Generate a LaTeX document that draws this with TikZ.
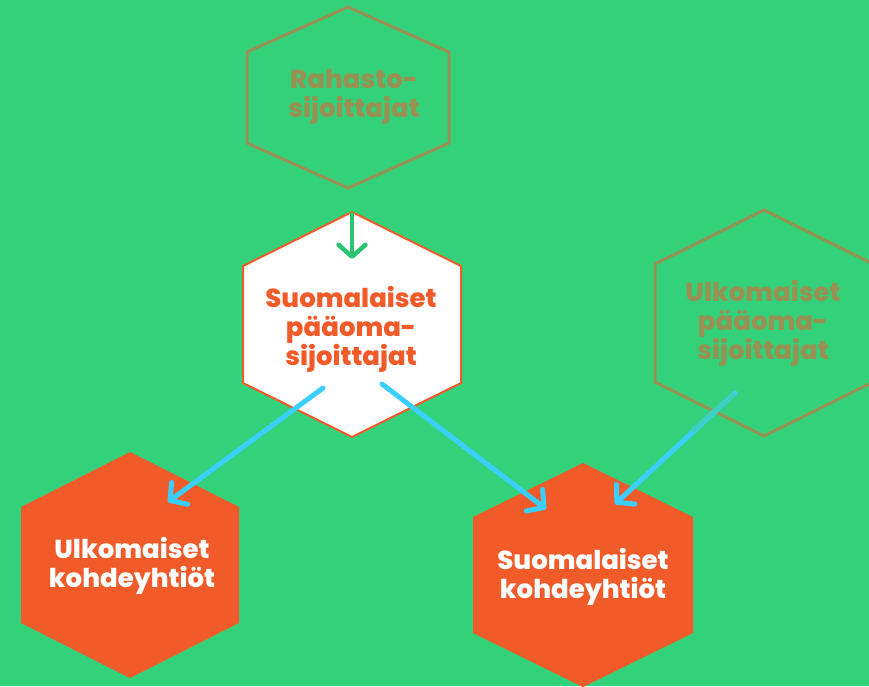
\documentclass[tikz,border=0pt]{standalone}
\usepackage{fontspec}
\setmainfont{Poppins}[BoldFont={Poppins ExtraBold}]
\usetikzlibrary{arrows.meta}

\definecolor{bggreen}{HTML}{34D17B}
\definecolor{darkgreen}{HTML}{2CC470}
\definecolor{oliv}{HTML}{989153}
\definecolor{oranssi}{HTML}{F15A29}
\definecolor{sininen}{HTML}{3BCFFF}
\definecolor{turkoosi}{HTML}{3CCFC2}

\tikzset{
    hexlabel/.style={align=center, inner sep=0pt, font=\bfseries\fontsize{26}{29}\selectfont},
    flow/.style={line width=5pt, line cap=round, -{Straight Barb[length=12pt,width=27pt,round]}},
}

\begin{document}
\begin{tikzpicture}[x=1pt,y=-1pt]

        \useasboundingbox (0,0) rectangle (869,686);
        \fill[bggreen] (0,0) rectangle (869,686);

        % ylarivi
        \draw[color=oliv, line width=3pt, shift={(348,97)}] (0,-90) -- (101,-45) -- (101,46) -- (0,91) -- (-101,46) -- (-101,-45) -- cycle;
        \node[hexlabel, text=oliv, name=rahasto] at (354,97) {Rahasto-\\sijoittajat};

        % keskirivi
        \draw[color=oranssi, fill=white, line width=2pt, shift={(352,324)}] (0,-112) -- (109,-58) -- (109,59) -- (0,113) -- (-109,59) -- (-109,-58) -- cycle;
        \node[hexlabel, text=oranssi, name=suomipo] at (351,329) {Suomalaiset\\pääoma-\\sijoittajat};

        \draw[color=oliv, line width=3pt, shift={(764,323)}] (0,-113) -- (109,-59) -- (109,59) -- (0,113) -- (-109,59) -- (-109,-59) -- cycle;
        \node[hexlabel, text=oliv, name=ulkopo] at (763,323) {Ulkomaiset\\pääoma-\\sijoittajat};

        % alarivi
        \fill[oranssi, shift={(130,565)}] (0,-113) -- (109,-58) -- (109,58) -- (0,113) -- (-109,58) -- (-109,-58) -- cycle;
        \node[hexlabel, text=white, name=ulkokohde] at (132,566) {Ulkomaiset\\kohdeyhtiöt};

        \fill[oranssi, shift={(583,575)}] (0,-112) -- (110,-58) -- (110,58) -- (0,112) -- (-110,58) -- (-110,-58) -- cycle;
        \node[hexlabel, text=white, name=suomikohde] at (583,577) {Suomalaiset\\kohdeyhtiöt};

        %
        \coordinate (g1) at (352,214);
        \coordinate (g2) at (352,259);
        \coordinate (b1) at (323,388);
        \coordinate (b2) at (168,502);
        \coordinate (b3) at (382,384);
        \coordinate (b4) at (546,509);
        \coordinate (b5) at (735,393);
        \coordinate (b6) at (615,504);
        \coordinate (b7) at (692,431);

        \draw[flow, color=darkgreen, line width=4.5pt] (g1) -- (g2);
        \draw[flow, color=sininen] (b1) -- (b2);
        \draw[flow, color=sininen] (b3) -- (b4);
        \draw[flow, color=sininen] (b5) -- (b6);
        \draw[color=turkoosi, line width=5pt] (b5) -- (b7);

\end{tikzpicture}
\end{document}
